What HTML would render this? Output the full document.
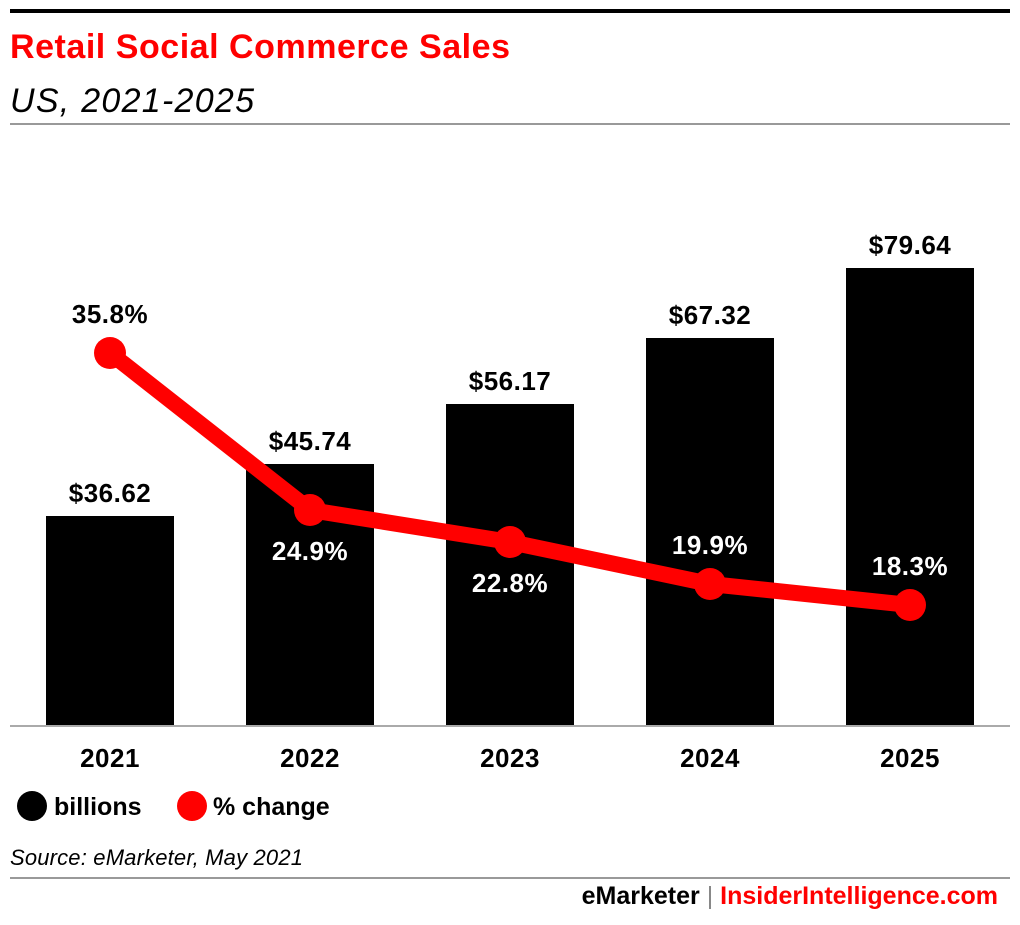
<!DOCTYPE html>
<html><head><style>
body{margin:0;background:#fff;}
svg text{font-family:"Liberation Sans",sans-serif;}
</style></head><body>
<svg width="1020" height="920" xmlns="http://www.w3.org/2000/svg">
<rect x="10" y="9" width="1000" height="4" fill="#000"/>
<text x="10" y="58" font-size="34" font-weight="bold" fill="#ff0000" textLength="500">Retail Social Commerce Sales</text>
<text x="10" y="112" font-size="34" font-style="italic" fill="#000" textLength="244">US, 2021-2025</text>
<rect x="10" y="123" width="1000" height="2" fill="#999"/>
<g fill="#000">
<rect x="46" y="516" width="128" height="210"/>
<rect x="246" y="464" width="128" height="262"/>
<rect x="446" y="404" width="128" height="322"/>
<rect x="646" y="338" width="128" height="388"/>
<rect x="846" y="268" width="128" height="458"/>
</g>
<rect x="10" y="725" width="1000" height="2" fill="#aaa"/>
<g font-size="26" font-weight="bold" text-anchor="middle" fill="#000" letter-spacing="0.5">
<text x="110" y="502">$36.62</text>
<text x="310" y="450">$45.74</text>
<text x="510" y="390">$56.17</text>
<text x="710" y="324">$67.32</text>
<text x="910" y="254">$79.64</text>
<text x="110" y="323">35.8%</text>
</g>
<polyline points="110,353 310,510 510,542 710,584 910,605" fill="none" stroke="#ff0000" stroke-width="16" stroke-linejoin="round"/>
<g fill="#ff0000">
<circle cx="110" cy="353" r="16"/><circle cx="310" cy="510" r="16"/><circle cx="510" cy="542" r="16"/><circle cx="710" cy="584" r="16"/><circle cx="910" cy="605" r="16"/>
</g>
<g font-size="26" font-weight="bold" text-anchor="middle" fill="#fff" letter-spacing="0.5">
<text x="310" y="560">24.9%</text>
<text x="510" y="592">22.8%</text>
<text x="710" y="554">19.9%</text>
<text x="910" y="575">18.3%</text>
</g>
<g font-size="26" font-weight="bold" text-anchor="middle" fill="#000" letter-spacing="0.5">
<text x="110" y="767">2021</text><text x="310" y="767">2022</text><text x="510" y="767">2023</text><text x="710" y="767">2024</text><text x="910" y="767">2025</text>
</g>
<circle cx="32" cy="806" r="15" fill="#000"/>
<text x="54" y="815" font-size="25" font-weight="bold">billions</text>
<circle cx="192" cy="806" r="15" fill="#ff0000"/>
<text x="213" y="815" font-size="25" font-weight="bold">% change</text>
<text x="10" y="865" font-size="22" font-style="italic" textLength="293">Source: eMarketer, May 2021</text>
<rect x="10" y="877" width="1000" height="2" fill="#999"/>
<text x="998" y="904" font-size="25" font-weight="bold" text-anchor="end" fill="#ff0000"><tspan fill="#000">eMarketer</tspan><tspan fill="#888" font-weight="normal">  |  </tspan>InsiderIntelligence.com</text>
</svg>
</body></html>
